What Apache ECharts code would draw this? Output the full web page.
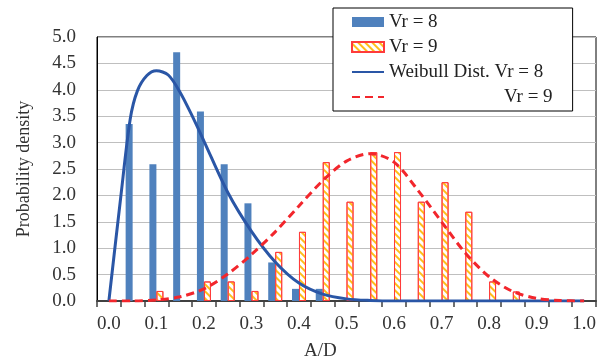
<!DOCTYPE html>
<html>
<head>
<meta charset="utf-8">
<script src="https://cdn.jsdelivr.net/npm/echarts@6/dist/echarts.min.js"></script>
<style>
  html, body { margin: 0; padding: 0; background: #fff; }
  #chart { width: 605px; height: 364px; }
</style>
</head>
<body>
<div id="chart"></div>
<script>
// histogram classes (A/D)
const categories = ['0.00', '0.05', '0.10', '0.15', '0.20', '0.25', '0.30', '0.35', '0.40', '0.45', '0.50',
  '0.55', '0.60', '0.65', '0.70', '0.75', '0.80', '0.85', '0.90', '0.95', '1.00']

// measured densities
const vr8Bars = [null, 3.35, 2.59, 4.71, 3.59, 2.59, 1.85, 0.73, 0.23, 0.23, null,
  null, null, null, null, null, null, null, null, null, null]
const vr9Bars = [null, null, 0.19, null, 0.37, 0.37, 0.19, 0.93, 1.31, 2.63, 1.88,
  2.82, 2.82, 1.88, 2.25, 1.69, 0.37, 0.18, null, null, null]

// weibull curves
const weibull8X = [0, 0.025, 0.045, 0.06, 0.08, 0.1, 0.125, 0.15, 0.175, 0.2, 0.25, 0.3, 0.35, 0.4, 0.45, 0.5, 0.55, 0.6, 0.7, 0.8, 0.9, 1.0]
const weibull8Y = [0, 1.97, 3.45, 3.98, 4.27, 4.36, 4.28, 3.95, 3.51, 3.03, 2.06, 1.32, 0.74, 0.34, 0.13, 0.04, 0.01, 0, 0, 0, 0, 0]
const weibull9X = [0, 0.05, 0.1, 0.15, 0.2, 0.25, 0.3, 0.35, 0.4, 0.45, 0.5, 0.55, 0.6, 0.65, 0.7, 0.75, 0.8, 0.85, 0.9, 0.95, 1.0]
const weibull9Y = [0, 0, 0.02, 0.08, 0.23, 0.51, 0.88, 1.31, 1.80, 2.28, 2.65, 2.79, 2.63, 2.10, 1.50, 0.91, 0.46, 0.18, 0.05, 0.01, 0]

const yTicks = [0, 0.5, 1.0, 1.5, 2.0, 2.5, 3.0, 3.5, 4.0, 4.5, 5.0]

const font = 'Liberation Serif'
const textColor = '#333'

const chart = echarts.init(document.getElementById('chart'))

chart.setOption({
  animation: false,
  backgroundColor: '#fff',
  grid: { left: 97, right: 9, top: 37, bottom: 63, show: true, borderColor: '#000', borderWidth: 1 },
  legend: {
    orient: 'vertical',
    left: 333,
    top: 8,
    padding: [4, 20, 4, 18],
    itemGap: 5,
    itemWidth: 32,
    itemHeight: 10,
    backgroundColor: '#fff',
    borderColor: '#000',
    borderWidth: 1,
    textStyle: { fontFamily: font, fontSize: 19, color: '#222', lineHeight: 20,
      rich: { p: { width: 115, fontFamily: font, fontSize: 19 } } },
    data: [
      { name: 'Vr = 8', icon: 'rect' },
      { name: 'Vr = 9', icon: 'rect' },
      { name: 'Weibull Dist. Vr = 8', itemStyle: { opacity: 0 } },
      { name: 'Weibull Dist. Vr = 9', itemStyle: { opacity: 0 } }
    ],
    formatter: name => name === 'Weibull Dist. Vr = 9' ? '{p|}Vr = 9' : name
  },
  xAxis: [
    {
      type: 'category',
      data: categories,
      boundaryGap: true,
      axisLine: { lineStyle: { color: '#404040', width: 2 } },
      axisTick: { show: true, interval: 0, length: 6, lineStyle: { color: '#404040', width: 1.5 } },
      axisLabel: {
        interval: 1,
        margin: 14,
        fontFamily: font,
        fontSize: 19,
        color: textColor,
        formatter: v => parseFloat(v).toFixed(1)
      },
      splitLine: { show: false }
    },
    {
      type: 'value',
      min: -0.025,
      max: 1.025,
      show: false,
      splitLine: { show: false }
    }
  ],
  yAxis: {
    type: 'value',
    min: yTicks[0],
    max: yTicks[yTicks.length - 1],
    interval: 0.5,
    name: 'Probability density',
    nameLocation: 'middle',
    nameGap: 64,
    nameTextStyle: { fontFamily: font, fontSize: 18, color: textColor },
    axisLine: { show: true, onZero: false, lineStyle: { color: '#000', width: 1 } },
    axisTick: { show: false },
    axisLabel: { margin: 21, fontFamily: font, fontSize: 19, color: textColor, formatter: v => v.toFixed(1) },
    splitLine: { lineStyle: { color: '#BFBFBF', width: 1 } }
  },
  graphic: [
    {
      type: 'text',
      left: 304,
      top: 342,
      style: { text: 'A/D', fontFamily: font, fontSize: 19, fill: textColor }
    }
  ],
  series: [
    {
      name: 'Vr = 8',
      type: 'bar',
      data: vr8Bars,
      barWidth: 7,
      barGap: '0%',
      itemStyle: { color: '#4F81BD' }
    },
    {
      name: 'Vr = 9',
      type: 'bar',
      data: vr9Bars,
      barWidth: 7,
      barGap: '0%',
      itemStyle: {
        color: '#fff',
        borderColor: '#FF3B3B',
        borderWidth: 1,
        decal: {
          symbol: 'rect',
          color: '#FFBE1A',
          dashArrayX: [1, 0],
          dashArrayY: [2, 2.5],
          rotation: Math.PI / 4
        }
      }
    },
    {
      name: 'Weibull Dist. Vr = 8',
      type: 'line',
      xAxisIndex: 1,
      data: weibull8X.map((x, i) => [x, weibull8Y[i]]),
      smooth: 0.3,
      symbol: 'none',
      lineStyle: { color: '#2A56A6', width: 3 },
      itemStyle: { color: '#2A56A6' }
    },
    {
      name: 'Weibull Dist. Vr = 9',
      type: 'line',
      xAxisIndex: 1,
      data: weibull9X.map((x, i) => [x, weibull9Y[i]]),
      smooth: 0.3,
      symbol: 'none',
      lineStyle: { color: '#F2262C', width: 3, type: [8, 5] },
      itemStyle: { color: '#F2262C' }
    }
  ]
})
</script>
</body>
</html>
